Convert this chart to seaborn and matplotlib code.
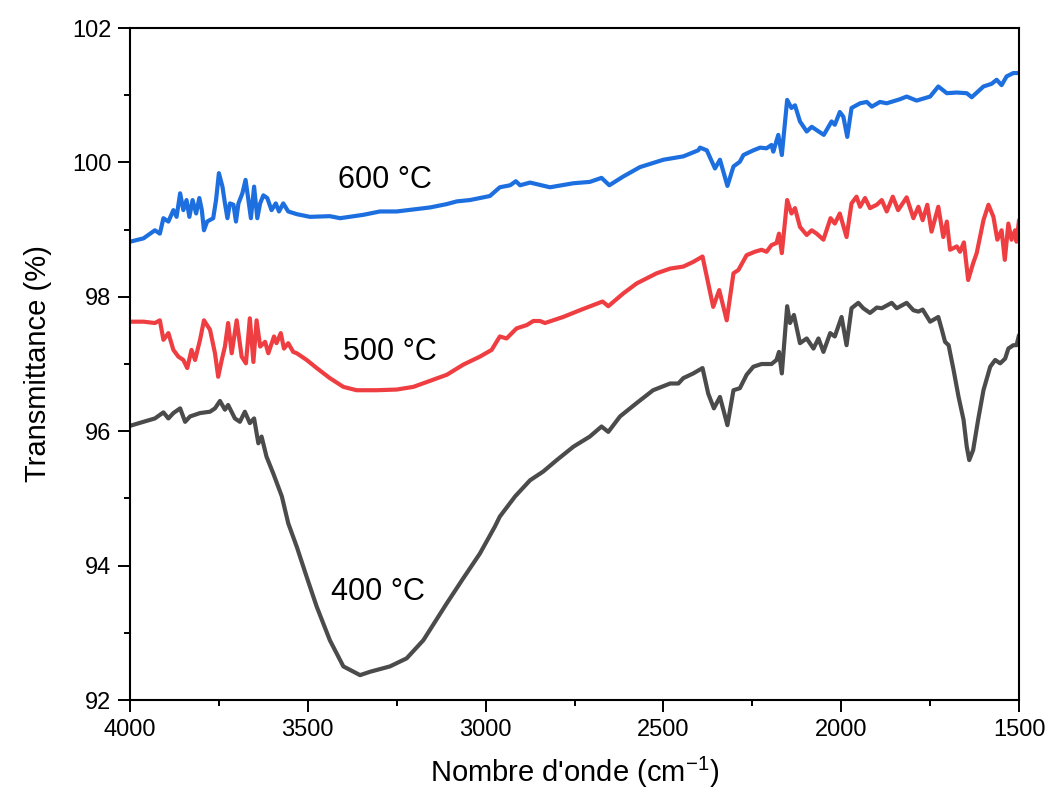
import numpy as np
import pandas as pd
import matplotlib
matplotlib.use("Agg")
import matplotlib.pyplot as plt
import seaborn as sns
from matplotlib.ticker import MultipleLocator

# ---- data ----
wn_600 = [4000, 3962, 3930, 3916, 3906, 3892, 3878, 3869, 3859, 3850, 3841, 3833, 3824, 3814, 3805, 3798,
          3792, 3783, 3766, 3758, 3750, 3740, 3733, 3726, 3719, 3709, 3702, 3695, 3684, 3675, 3667, 3660,
          3651, 3642, 3634, 3625, 3614, 3602, 3590, 3581, 3569, 3555, 3531, 3494, 3438, 3409, 3344, 3297,
          3250, 3203, 3156, 3109, 3081, 3044, 2988, 2960, 2931, 2915, 2903, 2875, 2819, 2753, 2707, 2674,
          2652, 2613, 2566, 2500, 2444, 2402, 2397, 2378, 2355, 2341, 2320, 2303, 2285, 2275, 2247, 2228,
          2210, 2196, 2191, 2177, 2167, 2152, 2140, 2130, 2116, 2097, 2083, 2069, 2049, 2027, 2018, 2004,
          1994, 1983, 1971, 1947, 1928, 1914, 1891, 1872, 1835, 1816, 1788, 1750, 1727, 1703, 1675, 1647,
          1633, 1600, 1577, 1563, 1549, 1535, 1516, 1500]
t_600 = [98.82, 98.87, 98.99, 98.94, 99.17, 99.12, 99.29, 99.19, 99.54, 99.29, 99.44, 99.19, 99.44, 99.24,
         99.47, 99.29, 98.99, 99.12, 99.17, 99.44, 99.84, 99.64, 99.39, 99.17, 99.39, 99.37, 99.12, 99.39,
         99.54, 99.74, 99.44, 99.17, 99.64, 99.17, 99.39, 99.51, 99.47, 99.29, 99.39, 99.27, 99.39, 99.27,
         99.23, 99.19, 99.20, 99.17, 99.22, 99.27, 99.27, 99.30, 99.33, 99.38, 99.42, 99.44, 99.50, 99.63,
         99.66, 99.72, 99.66, 99.70, 99.63, 99.69, 99.71, 99.77, 99.66, 99.79, 99.93, 100.04, 100.09,
         100.18, 100.22, 100.18, 99.91, 100.04, 99.65, 99.94, 100.01, 100.11, 100.18, 100.22, 100.21,
         100.26, 100.16, 100.41, 100.11, 100.93, 100.81, 100.85, 100.61, 100.46, 100.53, 100.48, 100.41,
         100.61, 100.56, 100.75, 100.68, 100.38, 100.81, 100.88, 100.90, 100.83, 100.90, 100.88, 100.94,
         100.98, 100.92, 100.98, 101.13, 101.03, 101.04, 101.03, 100.97, 101.13, 101.17, 101.23, 101.15,
         101.28, 101.33, 101.33]

wn_500 = [4000, 3962, 3930, 3916, 3906, 3892, 3878, 3864, 3850, 3839, 3827, 3817, 3803, 3792, 3775, 3761,
          3752, 3742, 3733, 3724, 3714, 3700, 3686, 3674, 3663, 3653, 3644, 3634, 3620, 3611, 3595, 3588,
          3576, 3567, 3555, 3541, 3531, 3503, 3475, 3438, 3400, 3363, 3306, 3250, 3203, 3156, 3109, 3063,
          3016, 2983, 2960, 2941, 2913, 2884, 2866, 2847, 2833, 2782, 2735, 2671, 2655, 2613, 2575, 2519,
          2481, 2444, 2416, 2390, 2374, 2360, 2343, 2322, 2303, 2289, 2266, 2243, 2224, 2210, 2196, 2182,
          2175, 2167, 2152, 2140, 2130, 2116, 2097, 2083, 2069, 2050, 2030, 2018, 2004, 1985, 1971, 1957,
          1947, 1933, 1919, 1900, 1886, 1872, 1855, 1840, 1816, 1797, 1783, 1771, 1758, 1746, 1727, 1713,
          1703, 1694, 1675, 1666, 1655, 1643, 1629, 1619, 1600, 1586, 1572, 1561, 1549, 1540, 1530, 1521,
          1511, 1507, 1500]
t_500 = [97.63, 97.63, 97.61, 97.65, 97.36, 97.46, 97.21, 97.11, 97.06, 96.94, 97.21, 97.06, 97.36, 97.65,
         97.51, 97.16, 96.81, 97.06, 97.26, 97.61, 97.16, 97.65, 97.11, 97.01, 97.68, 97.03, 97.65, 97.26,
         97.33, 97.16, 97.41, 97.31, 97.46, 97.23, 97.31, 97.18, 97.16, 97.06, 96.94, 96.79, 96.66, 96.61,
         96.61, 96.62, 96.66, 96.75, 96.84, 96.99, 97.11, 97.21, 97.41, 97.38, 97.53, 97.58, 97.64, 97.64,
         97.61, 97.70, 97.80, 97.93, 97.86, 98.05, 98.20, 98.35, 98.42, 98.45, 98.52, 98.60, 98.20, 97.85,
         98.10, 97.65, 98.35, 98.40, 98.62, 98.67, 98.70, 98.67, 98.77, 98.80, 98.94, 98.65, 99.44, 99.24,
         99.32, 99.04, 98.92, 98.99, 98.94, 98.85, 99.17, 99.09, 99.24, 98.89, 99.39, 99.49, 99.34, 99.47,
         99.32, 99.37, 99.44, 99.27, 99.49, 99.29, 99.48, 99.17, 99.34, 99.14, 99.37, 98.97, 99.34, 98.89,
         99.12, 98.70, 98.75, 98.67, 98.81, 98.25, 98.50, 98.65, 99.14, 99.37, 99.19, 98.85, 98.99, 98.55,
         99.09, 98.85, 98.99, 98.82, 99.14]

wn_400 = [4000, 3962, 3930, 3906, 3892, 3878, 3859, 3845, 3831, 3803, 3775, 3761, 3747, 3733, 3724, 3705,
          3691, 3677, 3663, 3651, 3639, 3630, 3616, 3597, 3573, 3555, 3531, 3503, 3475, 3438, 3400, 3353,
          3325, 3269, 3222, 3175, 3109, 3063, 3016, 2974, 2960, 2917, 2875, 2838, 2800, 2753, 2707, 2674,
          2655, 2622, 2575, 2529, 2481, 2458, 2444, 2416, 2390, 2374, 2358, 2341, 2320, 2303, 2285, 2266,
          2247, 2224, 2196, 2182, 2175, 2167, 2152, 2144, 2133, 2116, 2097, 2078, 2064, 2050, 2031, 2018,
          1999, 1985, 1971, 1952, 1938, 1919, 1900, 1886, 1858, 1844, 1816, 1797, 1783, 1771, 1750, 1727,
          1717, 1708, 1698, 1684, 1670, 1656, 1647, 1640, 1629, 1615, 1600, 1581, 1567, 1553, 1539, 1530,
          1516, 1507, 1500]
t_400 = [96.08, 96.14, 96.19, 96.28, 96.19, 96.27, 96.34, 96.14, 96.22, 96.27, 96.29, 96.34, 96.45, 96.32,
         96.39, 96.19, 96.14, 96.29, 96.12, 96.19, 95.82, 95.92, 95.62, 95.37, 95.03, 94.63, 94.28, 93.83,
         93.39, 92.89, 92.50, 92.37, 92.42, 92.50, 92.62, 92.89, 93.44, 93.81, 94.18, 94.58, 94.73, 95.03,
         95.27, 95.40, 95.57, 95.77, 95.92, 96.07, 95.99, 96.22, 96.42, 96.61, 96.71, 96.71, 96.79, 96.86,
         96.94, 96.56, 96.34, 96.51, 96.09, 96.61, 96.64, 96.84, 96.96, 97.00, 97.00, 97.06, 97.18, 96.86,
         97.86, 97.61, 97.73, 97.31, 97.38, 97.23, 97.38, 97.18, 97.46, 97.41, 97.70, 97.28, 97.83, 97.91,
         97.83, 97.76, 97.84, 97.83, 97.91, 97.83, 97.91, 97.80, 97.78, 97.81, 97.63, 97.70, 97.51, 97.33,
         97.28, 96.91, 96.51, 96.17, 95.77, 95.57, 95.72, 96.17, 96.61, 96.96, 97.06, 97.01, 97.08, 97.23,
         97.28, 97.28, 97.43]

series_names = ["600 °C", "500 °C", "400 °C"]
colors = ["#1d6fe0", "#ef3e42", "#4b4b4b"]
label_pos = [(3283, 99.74), (3269, 97.18), (3303, 93.61)]

x_ticks = [4000, 3500, 3000, 2500, 2000, 1500]
y_ticks = [92, 94, 96, 98, 100, 102]

# ---- build long-form frame ----
frames = []
for name, wn, t in zip(series_names, [wn_600, wn_500, wn_400], [t_600, t_500, t_400]):
    frames.append(pd.DataFrame({"wn": wn, "T": t, "série": name}))
df = pd.concat(frames, ignore_index=True)

sns.set_theme(style="ticks")
plt.rcParams["font.family"] = ["Liberation Sans", "DejaVu Sans"]
plt.rcParams["mathtext.default"] = "regular"
plt.rcParams["text.color"] = "black"
plt.rcParams["axes.labelcolor"] = "black"

fig = plt.figure(figsize=(10.5, 7.96), dpi=100)
ax = fig.add_axes([0.1238, 0.1206, 0.8467, 0.8442])

sns.lineplot(data=df, x="wn", y="T", hue="série", hue_order=series_names,
             palette=dict(zip(series_names, colors)), sort=False,
             linewidth=3.0, legend=False, ax=ax, estimator=None)

for name, (lx, ly) in zip(series_names, label_pos):
    ax.text(lx, ly, name, fontsize=22, ha="center", va="center", color="black")

ax.set_xlim(4000, 1500)
ax.set_ylim(92, 102)
ax.set_xticks(x_ticks)
ax.set_yticks(y_ticks)
ax.xaxis.set_minor_locator(MultipleLocator(250))
ax.yaxis.set_minor_locator(MultipleLocator(1))
ax.tick_params(which="major", direction="out", length=8.5, width=1.4, labelsize=17,
               colors="black", pad=5)
ax.tick_params(which="minor", direction="out", length=4, width=1.4, colors="black")
ax.tick_params(top=False, right=False, which="both")
for s in ax.spines.values():
    s.set_linewidth(1.5)
    s.set_color("black")
    s.set_visible(True)

ax.set_xlabel("Nombre d'onde (cm$^{-1}$)", fontsize=21, labelpad=10, color="black")
ax.set_ylabel("Transmittance (%)", fontsize=21, labelpad=14, color="black")

fig.savefig("out.png", dpi=100)
